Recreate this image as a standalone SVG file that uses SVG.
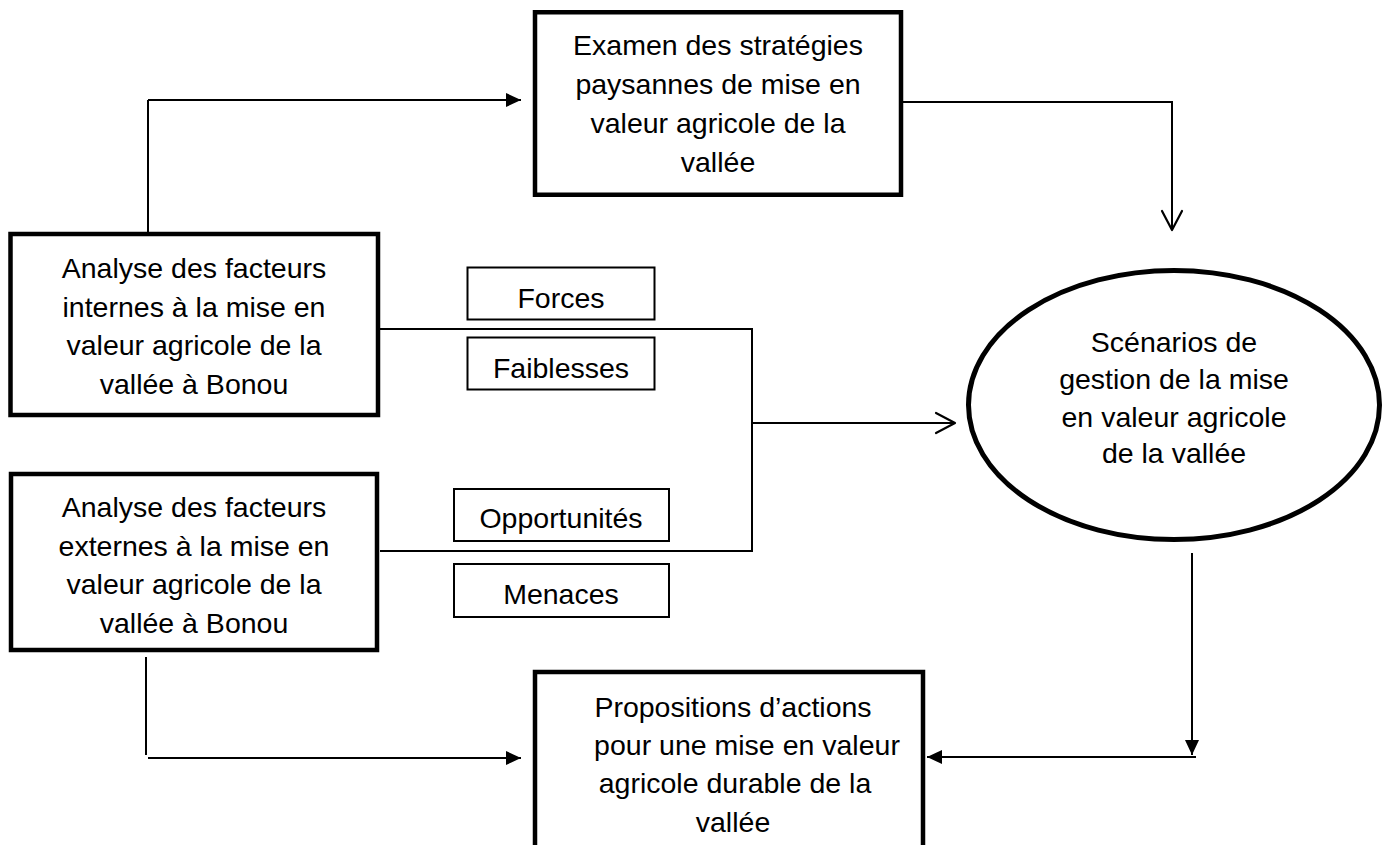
<svg xmlns="http://www.w3.org/2000/svg" width="1392" height="845" viewBox="0 0 1392 845">
  <style>
    .big { fill: #ffffff; stroke: #000000; stroke-width: 4.5; }
    .small { fill: #ffffff; stroke: #000000; stroke-width: 2; }
    .oval { fill: #ffffff; stroke: #000000; stroke-width: 5; }
    .t { font-family: "Liberation Sans", Arial, sans-serif; font-size: 28.5px; fill: #000000; text-anchor: middle; }
    .ln { fill: none; stroke: #000000; stroke-width: 2; }
  </style>
  <defs>
    <marker id="solid" markerUnits="userSpaceOnUse" markerWidth="16" markerHeight="16" refX="15" refY="7" orient="auto" overflow="visible">
      <path d="M0,0 L15,7 L0,14 Z" fill="#000000"/>
    </marker>
    <marker id="open" markerUnits="userSpaceOnUse" markerWidth="22" markerHeight="22" refX="19" refY="10" orient="auto" overflow="visible">
      <path d="M0,0 L19,10 L0,20" fill="none" stroke="#000000" stroke-width="2.2" stroke-linejoin="round" stroke-linecap="round"/>
    </marker>
  </defs>
  <rect width="1392" height="845" fill="#ffffff"/>

  <g id="connectors">
    <path class="ln" d="M148,232 V100"/>
    <path class="ln" d="M148,100 H521" marker-end="url(#solid)"/>
    <path class="ln" d="M903,102 H1172 V230" marker-end="url(#open)"/>
    <path class="ln" d="M380,329 H752"/>
    <path class="ln" d="M752,328 V552"/>
    <path class="ln" d="M380,551 H752"/>
    <path class="ln" d="M752,423 H955" marker-end="url(#open)"/>
    <path class="ln" d="M1192,553 V755" marker-end="url(#solid)"/>
    <path class="ln" d="M1196,757 H927" marker-end="url(#solid)"/>
    <path class="ln" d="M146,657 V755"/>
    <path class="ln" d="M148,758 H521" marker-end="url(#solid)"/>
  </g>

  <g id="examen">
    <rect class="big" x="535" y="12.25" width="366" height="182.5"/>
    <text class="t" x="718" y="55">Examen des stratégies</text>
    <text class="t" x="718" y="94">paysannes de mise en</text>
    <text class="t" x="718" y="133">valeur agricole de la</text>
    <text class="t" x="718" y="172">vallée</text>
  </g>

  <g id="internes">
    <rect class="big" x="10.5" y="234" width="367.5" height="181"/>
    <text class="t" x="194" y="278">Analyse des facteurs</text>
    <text class="t" x="194" y="317">internes à la mise en</text>
    <text class="t" x="194" y="355">valeur agricole de la</text>
    <text class="t" x="194" y="394">vallée à Bonou</text>
  </g>

  <g id="externes">
    <rect class="big" x="11" y="474" width="366" height="176"/>
    <text class="t" x="194" y="517">Analyse des facteurs</text>
    <text class="t" x="194" y="556">externes à la mise en</text>
    <text class="t" x="194" y="594">valeur agricole de la</text>
    <text class="t" x="194" y="633">vallée à Bonou</text>
  </g>

  <g id="forces">
    <rect class="small" x="467.5" y="267.5" width="187" height="52"/>
    <text class="t" x="561" y="308">Forces</text>
  </g>
  <g id="faiblesses">
    <rect class="small" x="467.5" y="337.5" width="187" height="52"/>
    <text class="t" x="561" y="378">Faiblesses</text>
  </g>
  <g id="opportunites">
    <rect class="small" x="454" y="489" width="215" height="52"/>
    <text class="t" x="561" y="528">Opportunités</text>
  </g>
  <g id="menaces">
    <rect class="small" x="454" y="564" width="215" height="53"/>
    <text class="t" x="561" y="604">Menaces</text>
  </g>

  <g id="scenarios">
    <ellipse class="oval" cx="1174" cy="405" rx="205.5" ry="134.5"/>
    <text class="t" x="1174" y="352">Scénarios de</text>
    <text class="t" x="1174" y="389">gestion de la mise</text>
    <text class="t" x="1174" y="427">en valeur agricole</text>
    <text class="t" x="1174" y="463">de la vallée</text>
  </g>

  <g id="propositions">
    <rect class="big" x="535" y="672" width="388" height="200"/>
    <text class="t" x="733" y="717">Propositions d’actions</text>
    <text class="t" x="747" y="755">pour une mise en valeur</text>
    <text class="t" x="735" y="793">agricole durable de la</text>
    <text class="t" x="733" y="832">vallée</text>
  </g>
</svg>
